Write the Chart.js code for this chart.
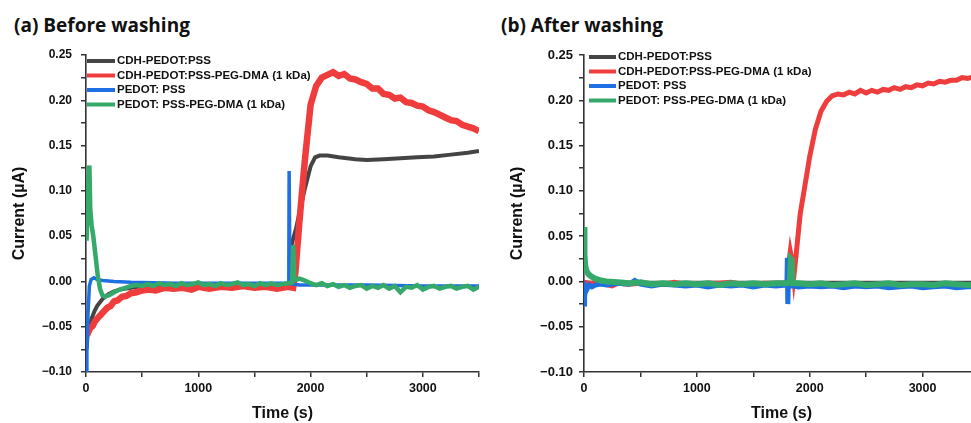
<!DOCTYPE html>
<html>
<head>
<meta charset="utf-8">
<script src="https://cdn.jsdelivr.net/npm/chart.js@4"></script>
<style>
html, body { margin: 0; padding: 0; background: #fff; overflow: hidden; }
#wrap { position: relative; width: 971px; height: 423px; overflow: hidden; }
.panel { position: absolute; top: 0; height: 423px; }
.ttl { position: absolute; top: 12px; font: bold 19px "Open Sans", sans-serif; color: #111; white-space: nowrap; }
</style>
</head>
<body>
<div id="wrap">
  <div class="ttl" style="left:14px">(a) Before washing</div>
  <div class="ttl" style="left:501px">(b) After washing</div>
  <div class="panel" style="left:0;width:490px"><canvas id="chartA" width="490" height="423"></canvas></div>
  <div class="panel" style="left:490px;width:500px"><canvas id="chartB" width="500" height="423"></canvas></div>
</div>
<script>
const seriesNames = ["CDH-PEDOT:PSS", "CDH-PEDOT:PSS-PEG-DMA (1 kDa)", "PEDOT: PSS", "PEDOT: PSS-PEG-DMA (1 kDa)"];
const yTicks = [-0.10, -0.05, 0.00, 0.05, 0.10, 0.15, 0.20, 0.25];
const xTicks = [0, 1000, 2000, 3000];

// (a) before washing
const tA_cdh = [5, 12, 20, 35, 50, 75, 100, 150, 200, 250, 300, 400, 500, 600, 800, 1000, 1200, 1400, 1600, 1810, 1816, 1840, 1870, 1900, 1950, 2000, 2040, 2080, 2150, 2250, 2400, 2500, 2650, 2800, 2950, 3100, 3250, 3400, 3500];
const iA_cdh = [-0.075, -0.062, -0.054, -0.047, -0.041, -0.033, -0.027, -0.019, -0.014, -0.011, -0.009, -0.007, -0.005, -0.004, -0.004, -0.004, -0.003, -0.003, -0.003, -0.003, 0.032, 0.045, 0.058, 0.075, 0.103, 0.127, 0.137, 0.139, 0.139, 0.137, 0.135, 0.134, 0.135, 0.136, 0.137, 0.138, 0.140, 0.142, 0.144];

const tA_peg = [10, 25, 40, 60, 80, 100, 130, 160, 190, 220, 250, 280, 320, 360, 400, 450, 500, 560, 620, 700, 780, 860, 940, 1000, 1100, 1200, 1300, 1400, 1500, 1600, 1700, 1800, 1845, 1865, 1900, 1950, 2000, 2050, 2100, 2150, 2200, 2250, 2300, 2350, 2400, 2450, 2500, 2550, 2600, 2650, 2700, 2750, 2800, 2850, 2900, 2950, 3000, 3050, 3100, 3150, 3200, 3250, 3300, 3350, 3400, 3450, 3500];
const iA_peg = [-0.059, -0.055, -0.051, -0.049, -0.044, -0.041, -0.037, -0.033, -0.029, -0.027, -0.022, -0.021, -0.017, -0.016, -0.013, -0.012, -0.010, -0.009, -0.010, -0.007, -0.008, -0.007, -0.009, -0.006, -0.008, -0.006, -0.007, -0.005, -0.007, -0.006, -0.008, -0.006, -0.007, 0.010, 0.065, 0.135, 0.195, 0.216, 0.225, 0.228, 0.231, 0.227, 0.229, 0.224, 0.223, 0.220, 0.218, 0.213, 0.213, 0.207, 0.206, 0.202, 0.203, 0.198, 0.197, 0.194, 0.193, 0.189, 0.187, 0.184, 0.181, 0.178, 0.177, 0.173, 0.171, 0.169, 0.166];

const tA_pedot = [0, 8, 18, 30, 45, 70, 100, 150, 250, 400, 800, 1200, 1600, 1806, 1809, 1813, 1817, 1840, 1900, 2000, 2500, 3000, 3500];
const iA_pedot = [-0.100, -0.075, -0.035, -0.005, 0.002, 0.004, 0.002, 0.001, 0.000, -0.001, -0.002, -0.002, -0.002, -0.002, 0.122, 0.122, -0.002, -0.003, -0.004, -0.004, -0.004, -0.005, -0.005];

const tA_pegp = [5, 15, 25, 30, 38, 50, 65, 85, 105, 125, 145, 170, 210, 250, 300, 350, 400, 450, 500, 550, 600, 650, 700, 750, 800, 850, 900, 950, 1000, 1050, 1100, 1150, 1200, 1250, 1300, 1350, 1400, 1450, 1500, 1550, 1600, 1650, 1700, 1750, 1800, 1835, 1845, 1855, 1870, 1900, 1950, 2000, 2050, 2100, 2150, 2200, 2250, 2300, 2350, 2400, 2450, 2500, 2550, 2600, 2650, 2700, 2750, 2800, 2850, 2900, 2950, 3000, 3050, 3100, 3150, 3200, 3250, 3300, 3350, 3400, 3450, 3500];
const iA_pegp = [0.045, 0.085, 0.122, 0.128, 0.080, 0.062, 0.050, 0.028, 0.006, -0.008, -0.015, -0.017, -0.015, -0.012, -0.009, -0.007, -0.005, -0.004, -0.005, -0.003, -0.005, -0.002, -0.004, -0.003, -0.005, -0.002, -0.004, -0.003, -0.001, -0.004, -0.003, -0.005, -0.002, -0.004, -0.003, -0.001, -0.004, -0.003, -0.005, -0.002, -0.004, -0.002, -0.004, -0.003, -0.002, -0.001, 0.040, 0.005, 0.002, 0.003, 0.001, -0.002, -0.004, -0.002, -0.005, -0.003, -0.006, -0.004, -0.007, -0.005, -0.004, -0.008, -0.005, -0.007, -0.004, -0.008, -0.005, -0.012, -0.006, -0.007, -0.004, -0.009, -0.006, -0.005, -0.008, -0.006, -0.005, -0.008, -0.006, -0.005, -0.009, -0.006];

// (b) after washing
const tB_cdh = [0, 1000, 2000, 3000, 3500];
const iB_cdh = [-0.001, -0.001, -0.001, -0.001, -0.001];

const tB_peg = [0, 50, 150, 250, 300, 400, 500, 600, 700, 800, 900, 1000, 1100, 1200, 1300, 1400, 1500, 1600, 1700, 1800, 1815, 1828, 1840, 1858, 1880, 1916, 1950, 2000, 2050, 2100, 2150, 2200, 2250, 2300, 2350, 2400, 2450, 2500, 2550, 2600, 2650, 2700, 2750, 2800, 2850, 2900, 2950, 3000, 3050, 3100, 3150, 3200, 3250, 3300, 3350, 3400, 3450, 3500];
const iB_peg = [-0.001, -0.002, -0.002, -0.005, -0.002, -0.003, -0.002, -0.003, -0.003, -0.001, -0.003, -0.003, -0.002, -0.002, -0.001, -0.003, -0.003, -0.002, -0.002, -0.002, 0.020, 0.033, 0.025, 0.004, 0.030, 0.075, 0.100, 0.138, 0.168, 0.188, 0.199, 0.205, 0.207, 0.206, 0.209, 0.207, 0.211, 0.208, 0.211, 0.209, 0.212, 0.211, 0.214, 0.212, 0.215, 0.214, 0.217, 0.216, 0.219, 0.218, 0.221, 0.220, 0.222, 0.222, 0.225, 0.224, 0.226, 0.227];

const tB_pedot = [0, 5, 12, 25, 45, 70, 100, 150, 200, 300, 400, 450, 500, 600, 700, 800, 900, 1000, 1100, 1200, 1300, 1400, 1500, 1600, 1700, 1798, 1802, 1806, 1810, 1900, 2000, 2100, 2200, 2300, 2400, 2500, 2600, 2700, 2800, 2900, 3000, 3100, 3200, 3300, 3400, 3500];
const iB_pedot = [-0.025, -0.018, -0.006, -0.009, -0.004, -0.006, -0.004, -0.003, -0.004, -0.002, -0.003, 0.001, -0.003, -0.005, -0.003, -0.004, -0.005, -0.004, -0.006, -0.004, -0.005, -0.004, -0.006, -0.004, -0.005, -0.004, 0.026, -0.025, -0.004, -0.006, -0.005, -0.006, -0.005, -0.007, -0.005, -0.006, -0.005, -0.007, -0.006, -0.005, -0.007, -0.006, -0.005, -0.007, -0.006, -0.006];

const tB_pegp = [0, 4, 10, 20, 40, 60, 100, 150, 200, 300, 400, 500, 600, 700, 800, 900, 1000, 1100, 1200, 1300, 1400, 1500, 1600, 1700, 1800, 1825, 1832, 1840, 1848, 1900, 2000, 2100, 2200, 2300, 2400, 2500, 2600, 2700, 2800, 2900, 3000, 3100, 3200, 3300, 3400, 3500];
const iB_pegp = [0.060, 0.030, 0.018, 0.012, 0.008, 0.006, 0.003, 0.001, 0.000, -0.001, -0.002, -0.001, -0.003, -0.002, -0.003, -0.002, -0.003, -0.002, -0.004, -0.002, -0.003, -0.002, -0.003, -0.002, -0.002, 0.000, 0.025, 0.024, -0.002, -0.002, -0.003, -0.002, -0.004, -0.003, -0.002, -0.004, -0.003, -0.002, -0.004, -0.003, -0.003, -0.004, -0.002, -0.003, -0.004, -0.003];

const colors = ["#444444", "#ef3d3d", "#1d6fe2", "#35a96a"];
const drawOrder = [3, 2, 1, 0];

function pts(t, v) {
    return t.map((x, i) => ({x: x, y: v[i]}));
}

function fmtY(v) {
    return v.toFixed(2).replace("-", "\u2212");
}

const lineLegend = {
    id: "lineLegend",
    afterDraw(chart, args, o) {
        const ctx = chart.ctx;
        const a = chart.chartArea;
        ctx.save();
        ctx.font = 'bold 11.5px "Liberation Sans", Arial, sans-serif';
        ctx.textBaseline = "middle";
        chart.data.datasets.forEach((d, i) => {
            const y = o.top + i * o.gap;
            ctx.strokeStyle = d.borderColor;
            ctx.lineWidth = 4;
            ctx.beginPath();
            ctx.moveTo(a.left + o.x0, y);
            ctx.lineTo(a.left + o.x1, y);
            ctx.stroke();
            ctx.fillStyle = "#111";
            ctx.fillText(d.label, a.left + o.x1 + 2, y);
        });
        ctx.restore();
    }
};

function makePanel(id, series, p) {
    const datasets = series.map((s, i) => ({
        label: seriesNames[i],
        data: pts(s[0], s[1]),
        borderColor: colors[i],
        backgroundColor: colors[i],
        borderWidth: p.widths[i],
        pointRadius: 0,
        tension: 0,
        order: drawOrder[i]
    }));

    new Chart(document.getElementById(id), {
        type: "line",
        data: {datasets: datasets},
        plugins: [lineLegend],
        options: {
            responsive: false,
            animation: false,
            layout: {padding: {top: 55, right: p.padRight, bottom: 0, left: 0}},
            plugins: {
                legend: {display: false},
                tooltip: {enabled: false},
                lineLegend: {top: p.legTop, gap: 14.5, x0: p.legX0, x1: p.legX1}
            },
            scales: {
                x: {
                    type: "linear",
                    min: 0,
                    max: 3500,
                    afterFit: s => { s.height = 51; },
                    border: {display: true, color: "#333", width: 1.6},
                    grid: {drawOnChartArea: false, drawTicks: true, tickLength: 5, color: "#333", lineWidth: 1.5},
                    ticks: {
                        stepSize: 500,
                        autoSkip: false,
                        maxRotation: 0,
                        padding: 4,
                        color: "#111",
                        font: {family: '"Liberation Sans", Arial', weight: "bold", size: 12.5},
                        callback: v => xTicks.includes(v) ? String(v) : ""
                    },
                    title: {
                        display: true,
                        text: "Time (s)",
                        color: "#111",
                        font: {family: '"Liberation Sans", Arial', weight: "bold", size: 16},
                        padding: {top: 0, bottom: 0}
                    }
                },
                y: {
                    min: -0.10,
                    max: 0.25,
                    afterFit: s => { s.width = p.yWidth; },
                    border: {display: true, color: "#333", width: 1.6},
                    grid: {drawOnChartArea: false, drawTicks: true, tickLength: 5, color: "#333", lineWidth: 1.5},
                    ticks: {
                        stepSize: 0.025,
                        autoSkip: false,
                        padding: p.tickPad,
                        color: "#111",
                        font: {family: '"Liberation Sans", Arial', weight: "bold", size: p.yFont},
                        callback: v => {
                            const r = Math.round(v * 1000);
                            return yTicks.some(t => Math.round(t * 1000) === r) ? fmtY(r / 1000) : "";
                        }
                    },
                    title: {
                        display: true,
                        text: "Current (\u00b5A)",
                        color: "#111",
                        font: {family: '"Liberation Sans", Arial', weight: "bold", size: 16},
                        padding: {top: p.titlePad, bottom: 0}
                    }
                }
            }
        }
    });
}

makePanel("chartA", [[tA_cdh, iA_cdh], [tA_peg, iA_peg], [tA_pedot, iA_pedot], [tA_pegp, iA_pegp]],
    {padRight: 11, yWidth: 86, tickPad: 9, yFont: 12, titlePad: 10, legTop: 61, legX0: 1, legX1: 29,
     widths: [4, 6.5, 3.5, 4.5]});
makePanel("chartB", [[tB_cdh, iB_cdh], [tB_peg, iB_peg], [tB_pedot, iB_pedot], [tB_pegp, iB_pegp]],
    {padRight: 11, yWidth: 94, tickPad: 6, yFont: 13, titlePad: 18, legTop: 57, legX0: 5, legX1: 32,
     widths: [3, 5, 5, 6]});
</script>
</body>
</html>
